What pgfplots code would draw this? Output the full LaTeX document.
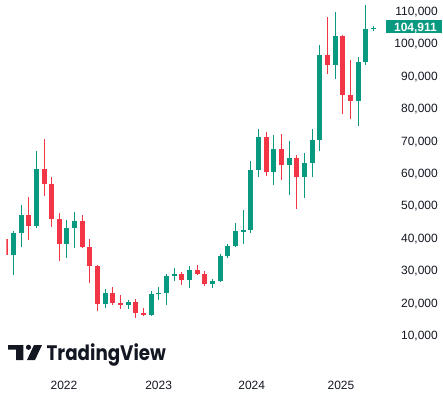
\documentclass[border=0pt]{standalone}
\usepackage{pgfplots}
\pgfplotsset{compat=1.18}
\usepackage{pgfplotstable}
\usepackage{fontspec}
\setmainfont{Liberation Sans}
\newfontfamily\tvfont{Poppins}
\definecolor{tvgreen}{HTML}{089981}
\definecolor{tvred}{HTML}{F23645}
\definecolor{tvtext}{HTML}{131722}

% monthly candles, Jun 2021 (i=0) ... Jun 2025 (i=48)
\pgfplotstableread{
i  o       h       l       c
1  34700   42200   28700   41600
2  41600   50300   37100   47100
4  43600   66900   43000   61400
8  38100   45600   34000   43100
9  43100   48000   36800   45400
13 19600   24400   18300   23200
16 19400   21000   18100   20400
19 16400   23800   15900   22900
20 22900   25000   21000   23200
21 23200   28900   19300   28300
22 28300   30900   26700   29000
24 27000   31300   24600   30300
27 25800   27300   24600   26800
28 26800   35000   26400   34500
29 34500   38300   33800   37500
30 37500   44600   37200   42200
31 42000   48600   38300   42500
32 42500   63800   41500   61000
33 61000   73600   58700   71200
35 60500   71800   56300   67500
37 62400   69900   53300   64600
39 58800   66200   52300   63200
40 63200   73500   58700   70200
41 70200   99600   66700   96400
43 93400   109600  89000   102400
46 82300   95800   74500   94200
47 94200   111900  93400   104600
48 104600  105400  103700  104911
}\upT
\pgfplotstableread{
i  o       h       l       c
0  39800   41300   28800   34700
3  47000   52800   39300   43600
5  61400   70600   53100   56600
6  56600   58900   43500   45800
7  45800   47700   32800   38100
10 45400   47200   37000   37300
11 37300   39700   26300   31500
12 31500   31800   17400   19600
14 23200   25000   19500   20000
15 20000   22500   18000   19400
17 20400   21300   15400   16900
18 16900   18300   16000   16400
23 29000   29600   25500   27000
25 30300   31600   28600   28900
26 28900   29900   25100   25800
34 71200   72700   59000   60500
36 67500   72000   57900   62400
38 64600   65500   49000   58800
42 96400   108300  90600   93400
44 102400  102600  78100   84200
45 84200   95000   76600   82300
}\downT

\begin{document}
\begin{tikzpicture}[x=1bp,y=1bp]
\path[use as bounding box] (0,0) rectangle (443,395);
\begin{axis}[
  at={(6.3bp,25bp)}, anchor=south west,
  scale only axis, width=370.7bp, height=370bp,
  xmin=0.08, xmax=48.45, ymin=-665, ymax=113391,
  axis line style={draw=none},
  major tick length=0pt,
  scaled y ticks=false,
  ytick={10000,20000,...,110000},
  yticklabel pos=right,
  /pgf/number format/.cd, fixed, 1000 sep={,}, assume math mode=true,
  /pgfplots/.cd,
  tick label style={font=\fontsize{12bp}{14bp}\selectfont, text=tvtext},
  yticklabel style={anchor=base east, inner sep=0pt, xshift=61bp, yshift=-4.3bp},
  xtick={7.6,19.96,32.1,43.75},
  xticklabels={2022,2023,2024,2025},
  xticklabel style={anchor=base, inner sep=0pt, yshift=-19.5bp},
]
% wicks
\addplot[draw=none, mark=none, forget plot, error bars/.cd, y dir=plus, y explicit, error mark=none,
  error bar style={line width=1bp, draw=tvgreen}]
  table[x=i, y=l, y error plus expr=\thisrow{h}-\thisrow{l}] {\upT};
\addplot[draw=none, mark=none, forget plot, error bars/.cd, y dir=plus, y explicit, error mark=none,
  error bar style={line width=1bp, draw=tvred}]
  table[x=i, y=l, y error plus expr=\thisrow{h}-\thisrow{l}] {\downT};
% bodies
\addplot[draw=none, mark=none, forget plot, error bars/.cd, y dir=plus, y explicit, error mark=none,
  error bar style={line width=5bp, draw=tvgreen}]
  table[x=i, y=o, y error plus expr=\thisrow{c}-\thisrow{o}] {\upT};
\addplot[draw=none, mark=none, forget plot, error bars/.cd, y dir=plus, y explicit, error mark=none,
  error bar style={line width=5bp, draw=tvred}]
  table[x=i, y=c, y error plus expr=\thisrow{o}-\thisrow{c}] {\downT};
\end{axis}
% last price label
\fill[tvgreen] (385.5,362) rectangle (442,375);
\node[anchor=base east, inner sep=0pt, text=white, font=\bfseries\fontsize{12bp}{14bp}\selectfont] at (437,363.7) {104,911};
% TradingView logo
\fill[tvtext] (8,50) -- (23.3,50) -- (23.3,35) -- (16,35) -- (16,45.5) -- (8,45.5) -- cycle;
\fill[tvtext] (28.5,47.7) circle (2.6);
\fill[tvtext] (34,50) -- (42,50) -- (35,35) -- (27,35) -- cycle;
\node[anchor=base west, inner sep=0pt, text=tvtext] at (46.5,35) {\scalebox{0.87}[1]{\tvfont\bfseries\fontsize{21bp}{21bp}\selectfont TradingView}};
\end{tikzpicture}
\end{document}
